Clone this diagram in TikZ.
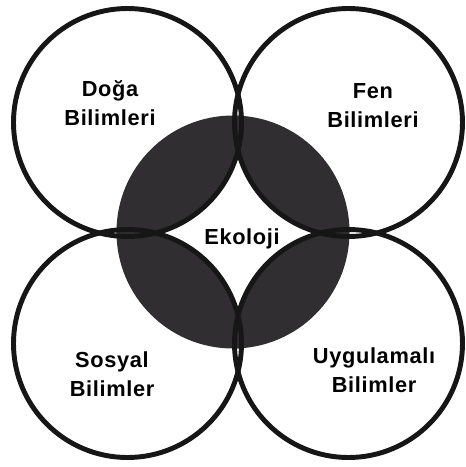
\documentclass[tikz,border=0pt]{standalone}
\usepackage{fontspec}
\setmainfont[LetterSpace=3]{Liberation Sans}
\definecolor{LensGray}{RGB}{48,46,48}
\definecolor{RingBlack}{RGB}{22,22,22}

\begin{document}
\begin{tikzpicture}[
      x=0.02cm,y=-0.02cm,
      ring/.style={draw=RingBlack,line width=2.8pt},
      lens/.style={fill=LensGray},
      txtNode/.style={font=\fontsize{12.4}{16.4}\selectfont\bfseries,align=center,text=black,inner sep=0pt},
      midNode/.style={font=\fontsize{12.4}{16.4}\selectfont\bfseries,text=black,inner sep=0pt}
    ]
    \useasboundingbox (0,0) rectangle (466,467);

    % Circle centres
    \coordinate (cTL) at (127.5,122.5);
    \coordinate (cTR) at (348.5,122.5);
    \coordinate (cBL) at (127.5,343.5);
    \coordinate (cBR) at (348.5,343.5);
    \coordinate (cMid) at (233,232);

    % Dark overlaps with the central circle
    \begin{scope}
      \clip (cMid) circle[radius=116.5];
      \foreach \c in {cTL,cTR,cBL,cBR}
        \fill[lens] (\c) circle[radius=114];
    \end{scope}

    % Outer rings
    \foreach \c in {cTL,cTR,cBL,cBR}
      \draw[ring] (\c) circle[radius=114];

    % Labels
    \node(doga)[txtNode] at (110,103) {Doğa\\Bilimleri};
    \node(fen)[txtNode] at (373,106) {Fen\\Bilimleri};
    \node(sosyal)[txtNode] at (112,374) {Sosyal\\Bilimler};
    \node(uyg)[txtNode] at (374,370) {Uygulamalı\\Bilimler};
    \node(eko)[midNode] at (242,239) {Ekoloji};
  \end{tikzpicture}
\end{document}
